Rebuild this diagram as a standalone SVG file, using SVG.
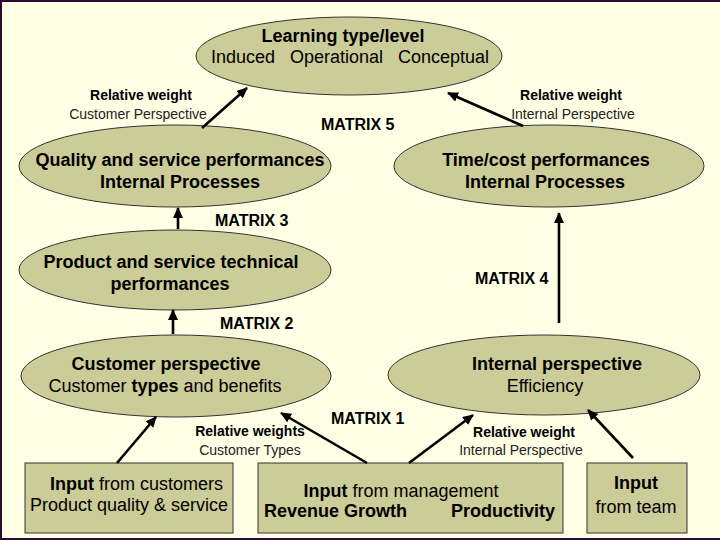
<svg xmlns="http://www.w3.org/2000/svg" width="720" height="540" viewBox="0 0 720 540">
<defs>
<style>
text{font-family:"Liberation Sans",Arial,sans-serif;fill:#000}
.n{fill:#cccc99;stroke:#333;stroke-width:1}
.t{font-size:18px}
.b{font-weight:bold}
.s{font-size:14px}
.g{fill:#222}
.m{font-size:16px;font-weight:bold}
.c{text-anchor:middle}
.a{stroke:#000;stroke-width:2.6;fill:none;marker-end:url(#ah)}
</style>
<marker id="ah" markerUnits="userSpaceOnUse" markerWidth="12" markerHeight="10" refX="10" refY="5" orient="auto">
<path d="M0,0 L11,5 L0,10 z" fill="#000"/>
</marker>
</defs>
<rect x="0" y="0" width="720" height="540" fill="#2e0a2e"/>
<rect x="2" y="2" width="718" height="536" fill="#ffffe5"/>

<g id="learning">
<ellipse class="n" cx="349" cy="56" rx="153" ry="39"/>
<text class="t b c" x="343" y="42">Learning type/level</text>
<text class="t" y="63"><tspan x="211">Induced</tspan><tspan x="290">Operational</tspan><tspan x="398">Conceptual</tspan></text>
</g>

<g id="quality">
<ellipse class="n" cx="175" cy="166" rx="156" ry="41"/>
<text class="t b c" x="180" y="166">Quality and service performances</text>
<text class="t b c" x="180" y="188">Internal Processes</text>
</g>

<g id="timecost">
<ellipse class="n" cx="549" cy="166" rx="155" ry="41"/>
<text class="t b c" x="546" y="166">Time/cost performances</text>
<text class="t b c" x="545" y="188">Internal Processes</text>
</g>

<g id="product">
<ellipse class="n" cx="175" cy="270" rx="156" ry="40"/>
<text class="t b c" x="171" y="268">Product and service technical</text>
<text class="t b c" x="170" y="290">performances</text>
</g>

<g id="customer">
<ellipse class="n" cx="176" cy="376" rx="155" ry="41"/>
<text class="t b c" x="166" y="370">Customer perspective</text>
<text class="t c" x="165" y="392">Customer <tspan class="b">types</tspan> and benefits</text>
</g>

<g id="internal">
<ellipse class="n" cx="544" cy="375" rx="156" ry="40"/>
<text class="t b c" x="557" y="370">Internal perspective</text>
<text class="t c" x="545" y="392">Efficiency</text>
</g>

<g id="input-customers">
<rect class="n" x="25" y="463" width="208" height="70"/>
<text class="t" x="50" y="490"><tspan class="b">Input</tspan> from customers</text>
<text class="t" x="30" y="511">Product quality &amp; service</text>
</g>

<g id="input-management">
<rect class="n" x="258" y="463" width="305" height="70"/>
<text class="t c" x="401" y="497"><tspan class="b">Input</tspan> from management</text>
<text class="t b" x="264" y="517">Revenue Growth</text>
<text class="t b" x="451" y="517">Productivity</text>
</g>

<g id="input-team">
<rect class="n" x="587" y="463" width="100" height="70"/>
<text class="t b c" x="636" y="489">Input</text>
<text class="t c" x="636" y="513">from team</text>
</g>

<g id="labels">
<text class="s b c" x="141" y="100">Relative weight</text>
<text class="s g c" x="138" y="119">Customer Perspective</text>
<text class="s b c" x="571" y="100">Relative weight</text>
<text class="s g c" x="573" y="119">Internal Perspective</text>
<text class="m" x="321" y="130">MATRIX 5</text>
<text class="m" x="215" y="226">MATRIX 3</text>
<text class="m" x="475" y="284">MATRIX 4</text>
<text class="m" x="220" y="329">MATRIX 2</text>
<text class="m" x="331" y="424">MATRIX 1</text>
<text class="s b c" x="250" y="436">Relative weights</text>
<text class="s g c" x="250" y="455">Customer Types</text>
<text class="s b c" x="524" y="437">Relative weight</text>
<text class="s g c" x="521" y="455">Internal Perspective</text>
</g>

<g id="connectors">
<line class="a" x1="202" y1="128" x2="247" y2="88"/>
<line class="a" x1="523" y1="126" x2="448" y2="93"/>
<line class="a" x1="178" y1="229" x2="178" y2="208"/>
<line class="a" x1="559" y1="323" x2="559" y2="213"/>
<line class="a" x1="173" y1="334" x2="173" y2="310"/>
<line class="a" x1="117" y1="463" x2="156" y2="417"/>
<line class="a" x1="367" y1="463" x2="281" y2="413"/>
<line class="a" x1="409" y1="463" x2="473" y2="415"/>
<line class="a" x1="633" y1="458" x2="588" y2="410"/>
</g>
</svg>
